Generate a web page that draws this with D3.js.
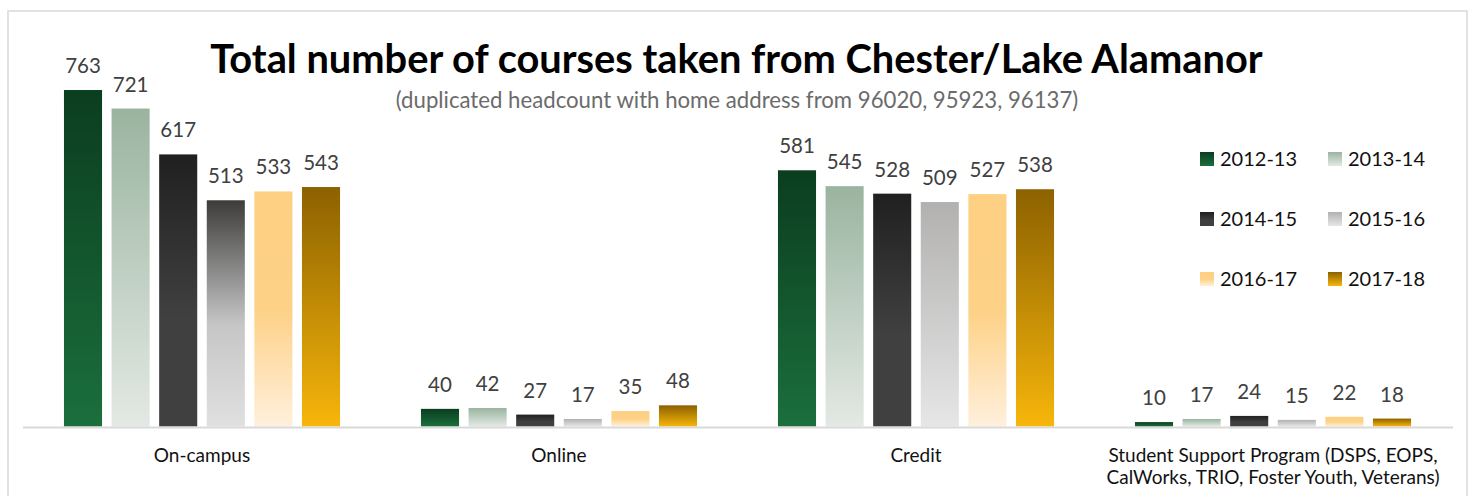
<!DOCTYPE html>
<html>
<head>
<meta charset="utf-8">
<script src="https://cdn.jsdelivr.net/npm/d3@7"></script>
<style>
  html, body { margin: 0; padding: 0; background: #fff; }
  svg { display: block; font-family: Lato, "Open Sans", sans-serif; }
</style>
</head>
<body>
<div id="chart"></div>
<script>
// data
var categories = ["On-campus", "Online", "Credit", "Student Support Program (DSPS, EOPS, CalWorks, TRIO, Foster Youth, Veterans)"];
var categoryLines = [["On-campus"], ["Online"], ["Credit"], ["Student Support Program (DSPS, EOPS,", "CalWorks, TRIO, Foster Youth, Veterans)"]];
var years = ["2012-13", "2013-14", "2014-15", "2015-16", "2016-17", "2017-18"];
var v2012 = [763, 40, 581, 10];
var v2013 = [721, 42, 545, 17];
var v2014 = [617, 27, 528, 24];
var v2015 = [513, 17, 509, 15];
var v2016 = [533, 35, 527, 22];
var v2017 = [543, 48, 538, 18];
var seriesValues = [v2012, v2013, v2014, v2015, v2016, v2017];
var yTicks = [0, 800];

var width = 1473, height = 496;

// vertical gradient stops per year (top -> bottom)
var gradients = [
    [[0, '#0b3d1f'], [1, '#1b6f3d']],
    [[0, '#9ab49f'], [1, '#e3e9e4']],
    [[0, '#202020'], [0.6, '#404040'], [1, '#404040']],
    [[0, '#b2b1b0'], [1, '#e6e6e6']],
    [[0, '#fdd083'], [0.5, '#fdd186'], [1, '#fff0dc']],
    [[0, '#8c6100'], [1, '#f7b60b']]
];
// the on-campus 2015-16 bar has its own fill in the original
var pointGradient = { '0-3': [[0, '#3d3c3b'], [0.55, '#c6c6c6'], [1, '#e0e0e0']] };

var svg = d3.select('#chart').append('svg')
    .attr('width', width)
    .attr('height', height);

var defs = svg.append('defs');
function addGradient(id, stops) {
    var g = defs.append('linearGradient')
        .attr('id', id)
        .attr('x1', 0).attr('y1', 0).attr('x2', 0).attr('y2', 1);
    stops.forEach(function(s) {
        g.append('stop').attr('offset', s[0]).attr('stop-color', s[1]);
    });
}
gradients.forEach(function(s, i) { addGradient('grad' + i, s); });
Object.keys(pointGradient).forEach(function(k) { addGradient('pgrad' + k, pointGradient[k]); });

// chart frame
svg.append('rect')
    .attr('x', 8).attr('y', 11)
    .attr('width', 1459).attr('height', 500)
    .style('fill', 'none')
    .style('stroke', '#d9d9d9')
    .style('stroke-width', 1.5);

var x0 = d3.scaleBand()
    .domain(categories)
    .range([23.5, 1451.5])
    .paddingInner(0.2)
    .paddingOuter(0.1);

var x1 = d3.scaleBand()
    .domain(years)
    .range([0, x0.bandwidth()])
    .paddingInner(0.2)
    .paddingOuter(0.1);

var yscale = d3.scaleLinear()
    .domain([yTicks[0], yTicks[1]])
    .range([426.5, 73.7]);

var groups = svg.append('g')
    .attr('id', 'bars')
    .selectAll('g')
    .data(categories)
    .enter()
    .append('g')
    .attr('transform', function(d) { return 'translate(' + x0(d) + ',0)'; });

groups.selectAll('rect')
    .data(function(d, ci) {
        return years.map(function(y, si) { return { cat: ci, s: si, year: y, value: seriesValues[si][ci] }; });
    })
    .enter()
    .append('rect')
    .attr('x', function(d) { return x1(d.year); })
    .attr('y', function(d) { return yscale(d.value); })
    .attr('width', x1.bandwidth())
    .attr('height', function(d) { return yscale(0) - yscale(d.value); })
    .style('fill', function(d) {
        var k = d.cat + '-' + d.s;
        return pointGradient[k] ? 'url(#pgrad' + k + ')' : 'url(#grad' + d.s + ')';
    });

groups.selectAll('text')
    .data(function(d, ci) {
        return years.map(function(y, si) { return { year: y, value: seriesValues[si][ci] }; });
    })
    .enter()
    .append('text')
    .attr('x', function(d) { return x1(d.year) + x1.bandwidth() / 2; })
    .attr('y', function(d) { return yscale(d.value) - 17; })
    .attr('text-anchor', 'middle')
    .style('fill', '#404040')
    .style('font-size', '20.5px')
    .text(function(d) { return d.value; });

// category axis
svg.append('line')
    .attr('x1', 23).attr('x2', 1453)
    .attr('y1', 427.6).attr('y2', 427.6)
    .style('stroke', '#d9d9d9')
    .style('stroke-width', 2);

var catLabels = svg.append('g').selectAll('text')
    .data(categories)
    .enter()
    .append('text')
    .attr('text-anchor', 'middle')
    .attr('x', function(d) { return x0(d) + x0.bandwidth() / 2; })
    .attr('y', 462)
    .style('fill', '#111')
    .style('font-size', '19px');

catLabels.selectAll('tspan')
    .data(function(d, i) { return categoryLines[i]; })
    .enter()
    .append('tspan')
    .attr('x', function() { var p = this.parentNode; return p.getAttribute('x'); })
    .attr('dy', function(d, i) { return i === 0 ? 0 : 22; })
    .text(function(d) { return d; });

// title and subtitle, sized to the original widths
function fitText(sel, targetWidth, startSize) {
    sel.style('font-size', startSize + 'px');
    var w = sel.node().getComputedTextLength();
    sel.style('font-size', (startSize * targetWidth / w) + 'px');
}

var title = svg.append('text')
    .attr('x', 736.5).attr('y', 73)
    .attr('text-anchor', 'middle')
    .style('font-weight', 'bold')
    .style('fill', '#000')
    .text('Total number of courses taken from Chester/Lake Alamanor');
fitText(title, 1053, 36);

var subtitle = svg.append('text')
    .attr('x', 737).attr('y', 107.5)
    .attr('text-anchor', 'middle')
    .style('fill', '#6b6b6b')
    .text('(duplicated headcount with home address from 96020, 95923, 96137)');
fitText(subtitle, 683, 18);

// legend
var legend = svg.append('g').selectAll('g')
    .data(years)
    .enter()
    .append('g')
    .attr('transform', function(d, i) {
        return 'translate(' + (1200 + (i % 2) * 128) + ',' + (152 + Math.floor(i / 2) * 60) + ')';
    });

legend.append('rect')
    .attr('width', 14).attr('height', 14)
    .style('fill', function(d, i) { return 'url(#grad' + i + ')'; });

legend.append('text')
    .attr('x', 20).attr('y', 14)
    .style('fill', '#111')
    .style('font-size', '20px')
    .text(function(d) { return d; });
</script>
</body>
</html>
